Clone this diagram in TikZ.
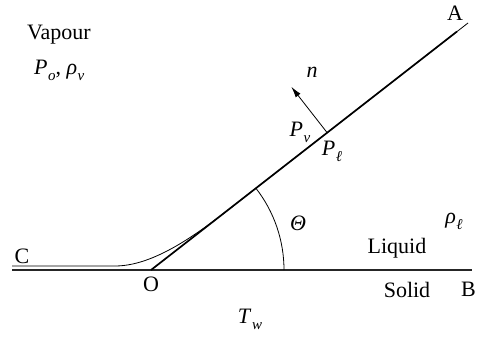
\documentclass[tikz,border=0pt]{standalone}
\usepackage{fontspec}
\setmainfont{Liberation Serif}
\usetikzlibrary{arrows.meta}
\tikzset{
  lbl/.style={inner sep=0pt, font=\fontsize{22}{24}\selectfont},
  thickline/.style={line width=1.7pt},
  thinline/.style={line width=0.8pt},
}
\newcommand{\vsub}[2]{\textit{#1}\kern0.5pt\raisebox{-6pt}{\fontsize{15}{15}\selectfont\textit{#2}}}
\begin{document}
\begin{tikzpicture}[x=1pt,y=1pt]
\useasboundingbox (0,0) rectangle (478,337);
% key points (y measured upward)
\coordinate (O) at (151,67);
\coordinate (Athick) at (457,305.5);
\coordinate (Aend) at (468,314);
\coordinate (Bend) at (472,67);
\coordinate (Cstart) at (12,67);
\coordinate (Cs) at (12,71);
\coordinate (Ck) at (115,71);
\coordinate (T) at (250,144.2);
\coordinate (N0) at (327,204.5);
\coordinate (N1) at (291.3,250.2);
% solid wall
\draw[line width=1.3pt, black!85] (Cstart) -- (Bend);
% liquid-vapour interface (thin curve)
\draw[thinline] (Cs) -- (Ck) .. controls (160,71) and (210.5,113.3) .. (T) -- (Aend);
% thick line OA
\draw[thickline] (O) -- (Athick);
% angle arc
\draw[thinline] (284,67) arc[start angle=0, end angle=38, radius=133];
% normal arrow
\draw[thinline, -{Latex[length=11pt,width=6pt]}] (N0) -- (N1);
% labels
\node[lbl] (lA) at (455,324) {A};
\node[lbl] (lV) at (59,302) {Vapour};
\node[lbl, anchor=west] (lP) at (34,267) {\vsub{P}{o}, \vsub{ρ}{v}};
\node[lbl] (ln) at (312,265) {\textit{n}};
\node[lbl] (lPv) at (300,205) {\vsub{P}{v}};
\node[lbl] (lPl) at (332,186) {\vsub{P}{ℓ}};
\node[lbl] (lTh) at (298,114) {\textit{Θ}};
\node[lbl] (lrho) at (454,116) {\vsub{ρ}{ℓ}};
\node[lbl] (lLiq) at (397,89) {Liquid};
\node[lbl] (lSol) at (407,47) {Solid};
\node[lbl, anchor=west] (lB) at (461,48) {B};
\node[lbl] (lC) at (22,81) {C};
\node[lbl] (lO) at (151,53) {O};
\node[lbl] (lTw) at (250,18) {\vsub{T}{w}};
\end{tikzpicture}
\end{document}
